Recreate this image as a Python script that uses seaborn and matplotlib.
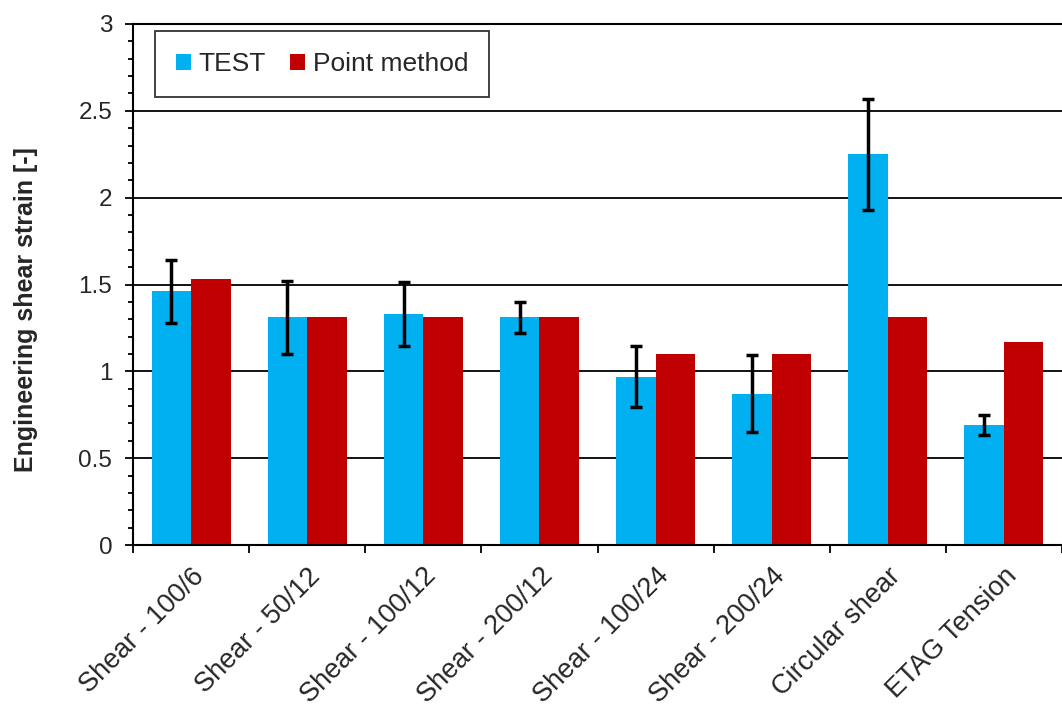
import numpy as np
import pandas as pd
import matplotlib
matplotlib.use('Agg')
import matplotlib.pyplot as plt
from matplotlib.ticker import FuncFormatter, MultipleLocator
import seaborn as sns

# values
cases = ['Shear - 100/6', 'Shear - 50/12', 'Shear - 100/12', 'Shear - 200/12',
         'Shear - 100/24', 'Shear - 200/24', 'Circular shear', 'ETAG Tension']
test = [1.46, 1.31, 1.33, 1.31, 0.97, 0.87, 2.25, 0.69]
test_err = [0.183, 0.213, 0.182, 0.092, 0.176, 0.222, 0.32, 0.057]
point_method = [1.53, 1.31, 1.31, 1.31, 1.10, 1.10, 1.31, 1.17]
series = ['TEST', 'Point method']
colors = ['#00B0F0', '#C00000']

df = pd.DataFrame({
    'case': cases * 2,
    'strain': test + point_method,
    'series': [series[0]] * len(cases) + [series[1]] * len(cases),
})

sns.set_style('white')
plt.rcParams['font.family'] = ['Liberation Sans', 'DejaVu Sans']

fig = plt.figure(figsize=(10.62, 7.13), dpi=100)
ax = fig.add_axes([133 / 1062, 1 - 545 / 713, 1 - 133 / 1062, (545 - 24) / 713])

sns.barplot(data=df, x='case', y='strain', hue='series', palette=colors,
            width=0.68, saturation=1, errorbar=None, linewidth=0, ax=ax)

# error bars on the TEST bars
xs = [p.get_x() + p.get_width() / 2 for p in ax.containers[0]]
ax.errorbar(xs, test, yerr=test_err, fmt='none', ecolor='black',
            elinewidth=2.5, capsize=4.3, capthick=2.5, zorder=5)

ax.set_ylim(0, 3)
ax.set_xlim(-0.5, 7.415)
ax.yaxis.set_major_locator(MultipleLocator(0.5))
ax.yaxis.set_minor_locator(MultipleLocator(0.1))
ax.yaxis.set_major_formatter(FuncFormatter(lambda v, p: '{:g}'.format(v)))
ax.grid(axis='y', which='major', color='black', linewidth=1.3)
ax.set_axisbelow(True)

ax.set_xticks(np.arange(len(cases)))
ax.set_xticklabels(cases, rotation=45, ha='right', rotation_mode='anchor')
ax.set_xticks(np.arange(-0.5, len(cases) + 0.5, 1), minor=True)
ax.tick_params(axis='x', which='major', length=0, pad=13, labelsize=19.5)
ax.tick_params(axis='x', which='minor', length=6, width=1.3, direction='out', color='black')
ax.tick_params(axis='y', which='major', length=6, width=1.3, direction='out',
               color='black', labelsize=17.5, pad=9)
ax.tick_params(axis='y', which='minor', length=3.5, width=1.3, direction='out', color='black')
ax.xaxis.set_tick_params(which='both', bottom=True)
ax.yaxis.set_tick_params(which='both', left=True)

for side in ['left', 'bottom', 'top']:
    ax.spines[side].set_color('black')
    ax.spines[side].set_linewidth(1.5)
ax.spines['right'].set_visible(False)

ax.set_xlabel('')
ax.set_ylabel('Engineering shear strain [-]', fontsize=18, fontweight='bold')
ax.yaxis.set_label_coords(-0.102, 0.451)

leg = ax.legend(loc='upper left', bbox_to_anchor=(22 / 929, 1 - 7 / 521), borderaxespad=0,
                ncol=2, fontsize=19, frameon=True, fancybox=False, edgecolor='black',
                handlelength=0.56, handleheight=0.56, handletextpad=0.3,
                columnspacing=0.9, borderpad=0.8)
leg.get_frame().set_linewidth(1.3)

fig.savefig('out.png', dpi=100)
